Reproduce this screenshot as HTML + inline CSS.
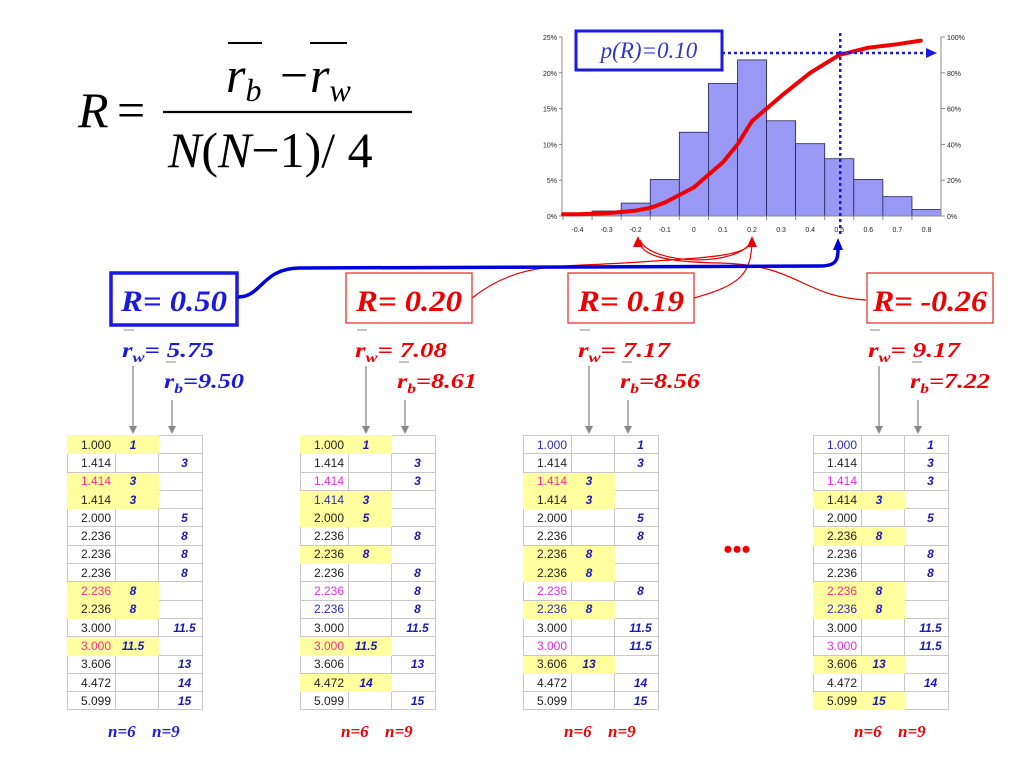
<!DOCTYPE html>
<html><head><meta charset="utf-8">
<style>
body{margin:0;background:#fff;width:1024px;height:768px;overflow:hidden;position:relative;font-family:"Liberation Sans",sans-serif}
svg{position:absolute;left:0;top:0}
.tbl{position:absolute;border-collapse:collapse;font-size:12px;table-layout:fixed;width:135px}
.tbl td{border:1px solid #c8c8c8;height:18.3px;padding:0;line-height:16px;box-sizing:border-box;overflow:hidden;white-space:nowrap}
.tbl td.v{text-align:right;padding-right:4px}
.tbl td.w{text-align:center;font-weight:bold;font-style:italic;color:#1a1ab0;padding-right:8px}
.tbl td.b{text-align:center;font-weight:bold;font-style:italic;color:#1a1ab0;padding-left:8px}
.tbl td.y{background:#ffffa0;border-color:#ffffa0}
</style></head>
<body>
<svg width="1024" height="768" id="fig" font-family="Liberation Serif, serif">
 <g font-style="italic" font-size="50">
  <text x="78" y="127">R</text>
  <text x="117" y="127" font-style="normal">=</text>
  <line x1="163" y1="112" x2="412" y2="112" stroke="#000" stroke-width="2.2"/>
  <line x1="228" y1="43" x2="262" y2="43" stroke="#000" stroke-width="2"/>
  <line x1="310" y1="43" x2="347" y2="43" stroke="#000" stroke-width="2"/>
  <text x="226" y="92">r<tspan font-size="32" dy="9">b</tspan></text>
  <text x="280" y="92" font-style="normal">−</text>
  <text x="310" y="92">r<tspan font-size="32" dy="9">w</tspan></text>
  <text x="168" y="167">N<tspan font-style="normal">(</tspan>N<tspan font-style="normal">−1)/ 4</tspan></text>
 </g>
 <g id="chart" font-family="Liberation Sans, sans-serif"></g>
 <g fill="none">
  <path d="M472,298 C520,260 560,268 640,262 C720,257 752,255 752,238" stroke="#e00" stroke-width="1.2"/>
  <path d="M694,298 C740,285 752,275 752,238" stroke="#e00" stroke-width="1.2"/>
  <path d="M866,300 C800,296 800,265 720,263 C660,262 640,255 638,238" stroke="#e00" stroke-width="1.2"/>
  <path d="M640,240 C650,265 740,268 752,240" stroke="#e00" stroke-width="1.2"/>
  <path d="M238,297 C262,297 262,268 300,268 L820,266 C836,266 838,260 838,250" stroke="#0000dd" stroke-width="3.5"/>
  <polygon points="633,247 638,236 643,247" fill="#e00"/>
  <polygon points="747,247 752,236 757,247" fill="#e00"/>
  <polygon points="833,250 838,238 843,250" fill="#0000dd"/>
 </g>
 <g>
  <rect x="111" y="273" width="126" height="52" fill="#fff" stroke="#1a1ae0" stroke-width="3.5"/>
  <text x="174" y="311" text-anchor="middle" fill="#1a1ae0" font-weight="bold" font-style="italic" font-size="30" textLength="106" lengthAdjust="spacingAndGlyphs">R= 0.50</text>
  <rect x="346" y="273" width="126" height="50" fill="#fff" stroke="#e22" stroke-width="1.2"/>
  <text x="409" y="311" text-anchor="middle" fill="#e00" font-weight="bold" font-style="italic" font-size="30" textLength="106" lengthAdjust="spacingAndGlyphs">R= 0.20</text>
  <rect x="568" y="273" width="126" height="50" fill="#fff" stroke="#e22" stroke-width="1.2"/>
  <text x="631" y="311" text-anchor="middle" fill="#e00" font-weight="bold" font-style="italic" font-size="30" textLength="106" lengthAdjust="spacingAndGlyphs">R= 0.19</text>
  <rect x="867" y="273" width="126" height="50" fill="#fff" stroke="#e22" stroke-width="1.2"/>
  <text x="930" y="311" text-anchor="middle" fill="#e00" font-weight="bold" font-style="italic" font-size="30" textLength="114" lengthAdjust="spacingAndGlyphs">R= -0.26</text>
 </g>
 <g id="stats"></g>
 <text x="737" y="558" text-anchor="middle" fill="#e00" font-size="26" font-weight="bold">•••</text>
</svg>
<div id="tables"></div>
<script>
const binCenters=[-0.4,-0.3,-0.2,-0.1,0,0.1,0.2,0.3,0.4,0.5,0.6,0.7,0.8];
const freqPct=[0.3,0.7,1.8,5.1,11.7,18.5,21.8,13.3,10.1,8.0,5.1,2.7,0.9];
const cdfX=[-0.45,-0.4,-0.3,-0.2,-0.15,-0.1,0,0.1,0.15,0.2,0.3,0.4,0.5,0.6,0.7,0.78];
const cdfPct=[1,1,1.5,3,4.5,7.5,16,30,40,53,67,80,90,94,96,98];
const leftTicks=["0%","5%","10%","15%","20%","25%"];
const rightTicks=["0%","20%","40%","60%","80%","100%"];
const xTickLabels=["-0.4","-0.3","-0.2","-0.1","0","0.1","0.2","0.3","0.4","0.5","0.6","0.7","0.8"];
const ns="http://www.w3.org/2000/svg";
const x0=563,x1=941,yB=216,yT=37,bw=29.08;
const xs=v=>x0+bw/2+(v+0.4)/0.1*bw;
const yL=p=>yB-p/25*(yB-yT);
const yR=p=>yB-p/100*(yB-yT);
const chart=document.getElementById('chart');
function mk(tag,attrs,parent){const e=document.createElementNS(ns,tag);for(const k in attrs)e.setAttribute(k,attrs[k]);(parent||chart).appendChild(e);return e;}
binCenters.forEach((c,i)=>{
 const r=mk('rect',{x:xs(c)-bw/2,y:yL(freqPct[i]),width:bw,height:yB-yL(freqPct[i]),fill:'#9999f5',stroke:'#222255','stroke-width':0.8});
 
 
});
mk('line',{x1:x0-1,y1:yT,x2:x0-1,y2:yB,stroke:'#888'});
mk('line',{x1:x1,y1:yT,x2:x1,y2:yB,stroke:'#888'});
mk('line',{x1:x0-1,y1:yB,x2:x1,y2:yB,stroke:'#888'});
leftTicks.forEach((t,i)=>{const y=yB-i*(yB-yT)/5;
 mk('line',{x1:x0-4,y1:y,x2:x0-1,y2:y,stroke:'#888'});
 const e=mk('text',{x:x0-6,y:y+3,'text-anchor':'end','font-size':7,fill:'#222'});e.textContent=t;
 });
rightTicks.forEach((t,i)=>{const y=yB-i*(yB-yT)/5;
 mk('line',{x1:x1,y1:y,x2:x1+4,y2:y,stroke:'#888'});
 const e=mk('text',{x:x1+6,y:y+3,'font-size':7,fill:'#222'});e.textContent=t;
 });
xTickLabels.forEach((t,i)=>{const x=xs(binCenters[i]);
 mk('line',{x1:x0+i*bw,y1:yB,x2:x0+i*bw,y2:yB+4,stroke:'#888'});
 const e=mk('text',{x:x,y:yB+16,'text-anchor':'middle','font-size':7,fill:'#222'});e.textContent=t;
 });
let d='';cdfX.forEach((v,i)=>{d+=(i?' L':'M')+xs(v).toFixed(1)+','+yR(cdfPct[i]).toFixed(1);});
const cl=mk('path',{d:d,fill:'none',stroke:'#ee0000','stroke-width':4,'stroke-linejoin':'round','stroke-linecap':'round'});

const obsR=0.5;
mk('line',{x1:xs(obsR)+1,y1:33,x2:xs(obsR)+1,y2:236,stroke:'#1a1ae0','stroke-width':2.5,'stroke-dasharray':'3,3'});
mk('line',{x1:722,y1:53,x2:928,y2:53,stroke:'#1a1ae0','stroke-width':2.5,'stroke-dasharray':'3,3'});
mk('polygon',{points:'926,48 937,53 926,58',fill:'#1a1ae0'});
mk('rect',{x:576,y:31,width:146,height:39,fill:'#fff',stroke:'#1a1ae0','stroke-width':3});
const pt=mk('text',{x:649,y:58,'text-anchor':'middle','font-size':23,'font-style':'italic',fill:'#3333cc','font-family':'Liberation Serif, serif'});
pt.textContent='p(R)=0.10';

const tableX=[67,300,523,813];
const rwVals=["5.75","7.08","7.17","9.17"];
const rbVals=["9.50","8.61","8.56","7.22"];
const statColor=["#1a1ae0","#e00","#e00","#e00"];
const rowVals=["1.000","1.414","1.414","1.414","2.000","2.236","2.236","2.236","2.236","2.236","3.000","3.000","3.606","4.472","5.099"];
const ranks=["1","3","3","3","5","8","8","8","8","8","11.5","11.5","13","14","15"];
const groups=[
 "WBWWBBBBWWBWBBB",
 "WBBWWBWBBBBWBWB",
 "BBWWBBWWBWBBWBB",
 "BBBWBWBBWWBBWBW"];
const colors=[
 "kkpkkkkkpkkpkkk",
 "kkmbkkkkmbkpkkk",
 "bkpkkkkkmbkmkkk",
 "bkmkkkkkpbkmkkk"];
const cmap={k:'#222',p:'#ff3080',m:'#e030e0',b:'#2a2ac0'};
const stats=document.getElementById('stats');
const tdiv=document.getElementById('tables');
const TA='font-weight="bold" font-style="italic"';
tableX.forEach((tx,t)=>{
 const c=statColor[t];
 const a=tx+66, b=tx+105;
 const g=document.createElementNS(ns,'g');stats.appendChild(g);
 g.setAttribute('fill',c);
 g.innerHTML=`<line x1="${tx+57}" y1="330" x2="${tx+67}" y2="330" stroke="#888"/><text ${TA} font-size="21" x="${tx+55}" y="357" textLength="92" lengthAdjust="spacingAndGlyphs">r<tspan font-size="14" dy="5">w</tspan><tspan dy="-5">= ${rwVals[t]}</tspan></text>`+
 `<line x1="${tx+99}" y1="362" x2="${tx+109}" y2="362" stroke="#888"/><text ${TA} font-size="21" x="${tx+97}" y="388" textLength="80" lengthAdjust="spacingAndGlyphs">r<tspan font-size="14" dy="5">b</tspan><tspan dy="-5">=${rbVals[t]}</tspan></text>`+
 `<line x1="${a}" y1="366" x2="${a}" y2="428" stroke="#888" stroke-width="1.3"/><polygon points="${a-4},426 ${a},434 ${a+4},426" fill="#888"/>`+
 `<line x1="${b}" y1="400" x2="${b}" y2="428" stroke="#888" stroke-width="1.3"/><polygon points="${b-4},426 ${b},434 ${b+4},426" fill="#888"/>`+
 `<text ${TA} x="${tx+41}" y="737" font-size="17">n=6</text><text ${TA} x="${tx+85}" y="737" font-size="17">n=9</text>`;
 
 
 const tb=document.createElement('table');
 tb.className='tbl';tb.style.left=tx+'px';tb.style.top='435px';
 
 
 tb.innerHTML='<colgroup><col style="width:48px"><col style="width:43px"><col style="width:44px"></colgroup>';
 rowVals.forEach((v,i)=>{
  const w=groups[t][i]==='W';
  const tr=document.createElement('tr');
  
  
  tr.innerHTML=`<td class="v${w?' y':''}" style="color:${cmap[colors[t][i]]}">${v}</td><td class="w${w?' y':''}">${w?ranks[i]:''}</td><td class="b">${w?'':ranks[i]}</td>`;
  tb.appendChild(tr);
 });
 tdiv.appendChild(tb);
});
</script>
</body></html>
